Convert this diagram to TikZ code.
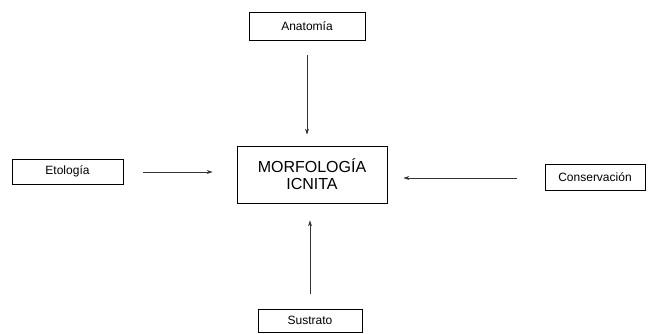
\documentclass[tikz,border=0pt]{standalone}
\usepackage{fontspec}
\setmainfont{Liberation Sans}
\usepackage{tikz}
\usetikzlibrary{arrows.meta}
\usetikzlibrary{calc}
\begin{document}
\begin{tikzpicture}[x=1pt, y=-1pt, box/.style={draw, line width=0.8pt, minimum width=#1, inner sep=0pt, font=\fontsize{12}{14}\selectfont}, line/.style={line width=0.6pt, color=black!80, -{Stealth[length=6pt, width=4pt]}}]
	\useasboundingbox (0, 0) rectangle (650, 333);
	\node[box=150pt, minimum height=57pt, align=center, font=\fontsize{16}{17}\selectfont] (Morf) at (312, 174.5) {MORFOLOGÍA\\ICNITA};
	\node[box=116pt, minimum height=28pt] (Anat) at (307, 26) {Anatomía};
	\node[box=111pt, minimum height=25pt] (Etol) at (67.5, 171.5) {Etología};
	\node[box=100pt, minimum height=26pt] (Cons) at (595, 177) {Conservación};
	\node[box=104pt, minimum height=23pt] (Sust) at (310, 320.5) {Sustrato};
	\coordinate (etail) at ($(Etol.east)+(0, 0.5)$);
	\coordinate (ctail) at ($(Cons.west)+(0, 1)$);
	\draw[line, shorten <=15pt, shorten >=11pt] (Anat.south) -- (Anat.south |- Morf.north);
	\draw[line, shorten <=20pt, shorten >=24pt] (etail) -- (Morf.west |- etail);
	\draw[line, shorten <=28pt, shorten >=16pt] (ctail) -- (Morf.east |- ctail);
	\draw[line, shorten <=15pt, shorten >=17pt] (Sust.north) -- (Sust.north |- Morf.south);
\end{tikzpicture}
\end{document}
